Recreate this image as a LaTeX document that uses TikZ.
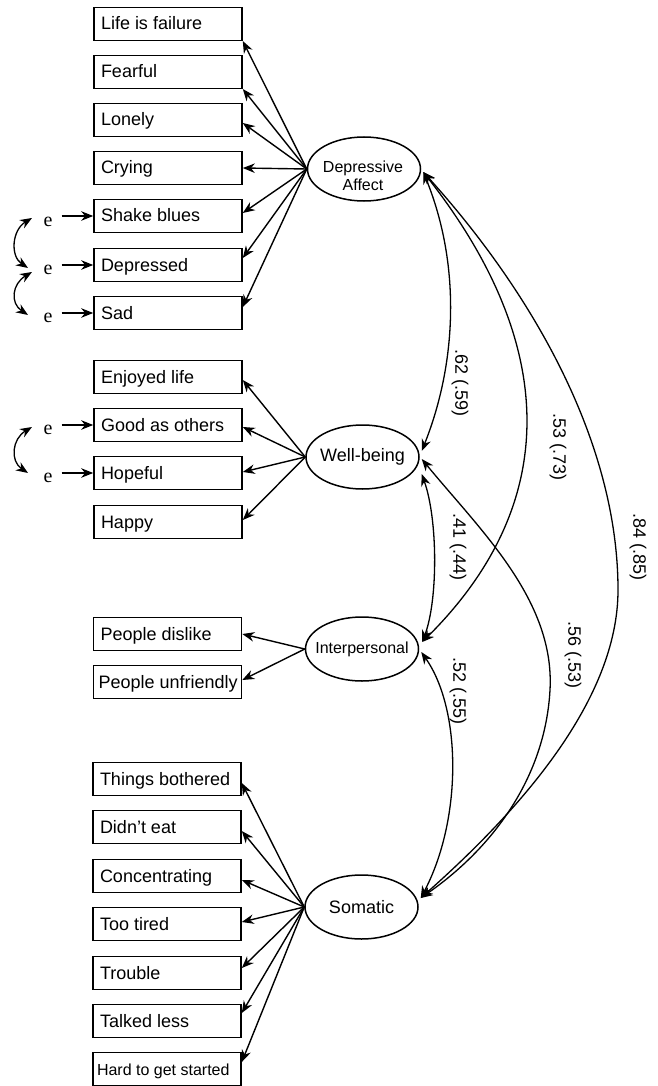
\documentclass[tikz,border=0pt]{standalone}
\usepackage{fontspec}
\setmainfont{Liberation Sans}
\newfontfamily\serifE{Liberation Serif}
\usetikzlibrary{arrows.meta,shapes.geometric}
\newcommand\obstext[1]{\makebox[134pt][l]{#1}}
\begin{document}
\begin{tikzpicture}[x=1pt,y=-1pt,
  every node/.style={inner sep=0pt},
  obs/.style={draw, line width=1.6pt, minimum width=148pt, minimum height=33pt, inner xsep=7pt, text height=13pt, text depth=1pt, font=\fontsize{18}{20}\selectfont},
  lat/.style={draw, ellipse, line width=1.5pt, minimum width=113pt, minimum height=64pt, font=\fontsize{18}{20}\selectfont},
  ld/.style={line width=1.4pt, -{Stealth[length=12pt,width=9.5pt]}},
  cov/.style={line width=1.3pt, {Stealth[length=12pt,width=9.5pt]}-{Stealth[length=12pt,width=9.5pt]}},
  err/.style={font=\serifE\fontsize{20}{22}\selectfont},
  val/.style={rotate=-90, font=\fontsize{18}{20}\selectfont}
]
\fill[white] (0,0) rectangle (658,1086);
\useasboundingbox (0,0) rectangle (658,1086);

% latent variables
\node[lat] (da) at (364,169) {};
\node[font=\fontsize{16}{18}\selectfont, align=center] (dat) at (363,176) {Depressive\\Affect};
\node[lat] (wb) at (362.5,457) {\makebox[0pt]{Well-being}};
\node[lat, font=\fontsize{16}{18}\selectfont] (ip) at (362,649) {\makebox[0pt]{Interpersonal}};
\node[lat] (so) at (361.5,907) {\makebox[0pt]{Somatic}};

% indicators: depressive affect
\node[obs] (d1) at (168,24) {\obstext{Life is failure}};
\node[obs] (d2) at (168,72) {\obstext{Fearful}};
\node[obs] (d3) at (168,120) {\obstext{Lonely}};
\node[obs] (d4) at (168,168) {\obstext{Crying}};
\node[obs] (d5) at (168,216) {\obstext{Shake blues}};
\node[obs] (d6) at (168,265) {\obstext{Depressed}};
\node[obs] (d7) at (168,313) {\obstext{Sad}};
% well-being
\node[obs] (w1) at (168,377) {\obstext{Enjoyed life}};
\node[obs] (w2) at (168,425) {\obstext{Good as others}};
\node[obs] (w3) at (168,473) {\obstext{Hopeful}};
\node[obs] (w4) at (168,522) {\obstext{Happy}};
% interpersonal
\node[obs] (i1) at (167.5,634) {\obstext{People dislike}};
\node[obs, inner xsep=5pt] (i2) at (167.5,682) {\makebox[138pt][l]{People unfriendly}};
% somatic
\node[obs] (s1) at (167,779) {\obstext{Things bothered}};
\node[obs] (s2) at (167,827) {\obstext{Didn't eat}};
\node[obs] (s3) at (167,876) {\obstext{Concentrating}};
\node[obs] (s4) at (167,924) {\obstext{Too tired}};
\node[obs] (s5) at (167,973) {\obstext{Trouble}};
\node[obs] (s6) at (167,1021) {\obstext{Talked less}};
\node[obs, font=\fontsize{16}{18}\selectfont, inner xsep=4pt] (s7) at (167,1069) {\makebox[140pt][l]{Hard to get started}};

% loadings
\draw[ld] (da.west) -- ([shift={(0,17)}]d1.east);
\draw[ld] (da.west) -- ([shift={(0,17)}]d2.east);
\draw[ld] (da.west) -- ([shift={(0,3)}]d3.east);
\draw[ld] (da.west) -- (d4.east);
\draw[ld] (da.west) -- ([shift={(0,-3)}]d5.east);
\draw[ld] (da.west) -- ([shift={(0,-7)}]d6.east);
\draw[ld] (da.west) -- ([shift={(0,-6)}]d7.east);

\draw[ld] (wb.west) -- ([shift={(0,3)}]w1.east);
\draw[ld] (wb.west) -- ([shift={(0,2)}]w2.east);
\draw[ld] (wb.west) -- ([shift={(0,-1)}]w3.east);
\draw[ld] (wb.west) -- ([shift={(0,-2)}]w4.east);

\draw[ld] (ip.west) -- (i1.east);
\draw[ld] (ip.west) -- ([shift={(0,-2)}]i2.east);

\draw[ld] (so.west) -- ([shift={(0,4)}]s1.east);
\draw[ld] (so.west) -- ([shift={(0,4)}]s2.east);
\draw[ld] (so.west) -- ([shift={(0,4)}]s3.east);
\draw[ld] (so.west) -- ([shift={(0,-2)}]s4.east);
\draw[ld] (so.west) -- ([shift={(0,-5)}]s5.east);
\draw[ld] (so.west) -- ([shift={(0,-8)}]s6.east);
\draw[ld] (so.west) -- ([shift={(0,-7)}]s7.east);

% errors
\node[err] (e1) at (48,222) {e};
\node[err] (e2) at (48,270) {e};
\node[err] (e3) at (48,318) {e};
\node[err] (e4) at (48,430) {e};
\node[err] (e5) at (48,478) {e};
\draw[ld, shorten <=9pt] (e1.east |- d5.west) -- (d5.west);
\draw[ld, shorten <=9pt] (e2.east |- d6.west) -- (d6.west);
\draw[ld, shorten <=9pt] (e3.east |- d7.west) -- (d7.west);
\draw[ld, shorten <=9pt] (e4.east |- w2.west) -- (w2.west);
\draw[ld, shorten <=9pt] (e5.east |- w3.west) -- (w3.west);
\draw[cov] ([shift={(-16,-4)}]e1.center) .. controls +(-20,12) and +(-18,-12) .. ([shift={(-20,-2)}]e2.center);
\draw[cov] ([shift={(-16,2)}]e2.center) .. controls +(-20,12) and +(-18,-12) .. ([shift={(-20,-3)}]e3.center);
\draw[cov] ([shift={(-16,-3)}]e4.center) .. controls +(-20,12) and +(-18,-12) .. ([shift={(-20,-5)}]e5.center);

% correlations
\draw[cov] ([shift={(2,3)}]da.east) .. controls (460,262) and (458,360) .. ([shift={(2,-6)}]wb.east);
\draw[cov] ([shift={(2,3)}]da.east) .. controls (555,340) and (565,500) .. ([shift={(3,-7)}]ip.east);
\draw[cov] ([shift={(2,3)}]da.east) .. controls (530,290) and (618,440) .. (618,590) .. controls (618,700) and (520,810) .. ([shift={(2,-9)}]so.east);
\draw[cov] ([shift={(2,2)}]wb.east) .. controls (480,530) and (555,600) .. (550,690) .. controls (545,780) and (490,850) .. ([shift={(2,-9)}]so.east);
\draw[cov] ([shift={(2,17)}]wb.east) .. controls (438,520) and (438,600) .. ([shift={(3,-7)}]ip.east);
\draw[cov] ([shift={(2,3)}]ip.east) .. controls (462,710) and (462,820) .. ([shift={(2,-9)}]so.east);

% correlation values
\node[val] (v1) at (460,383) {.62 (.59)};
\node[val] (v2) at (558,447) {.53 (.73)};
\node[val] (v3) at (458,547) {.41 (.44)};
\node[val] (v4) at (573,655) {.56 (.53)};
\node[val] (v5) at (458,691) {.52 (.55)};
\node[val] (v6) at (638,547) {.84 (.85)};
\end{tikzpicture}
\end{document}
